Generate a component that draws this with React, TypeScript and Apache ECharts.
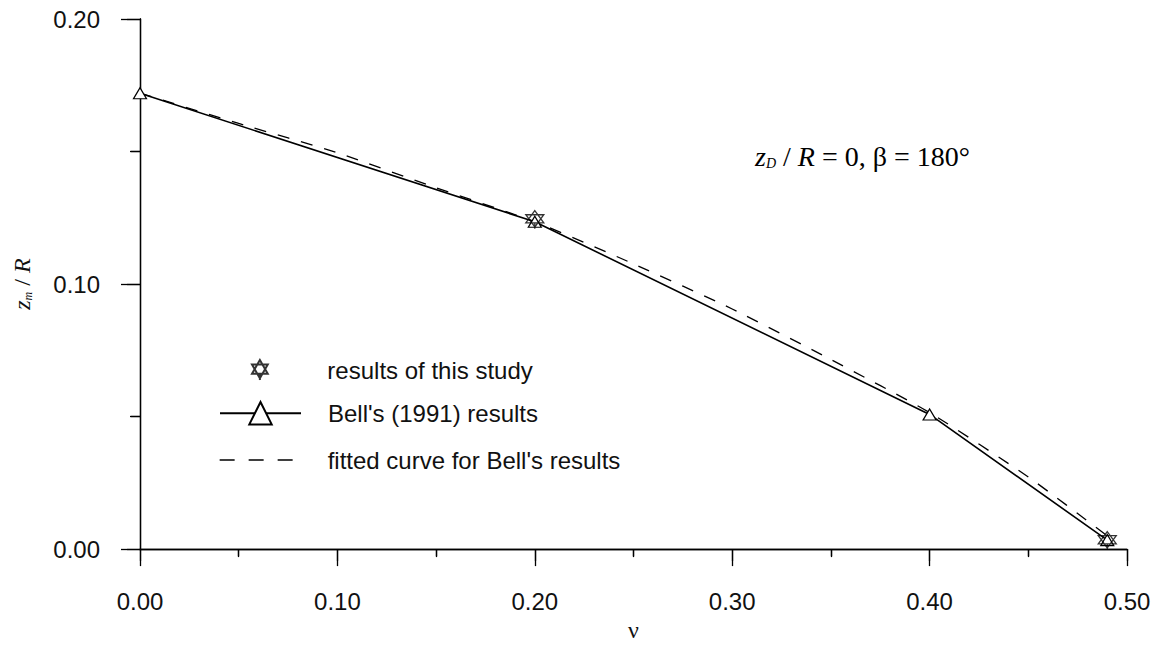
import React, { useEffect, useRef } from "react";
import * as echarts from "echarts";

// ν values and z_m / R values
const bellNu = [0, 0.2, 0.4, 0.49];
const bellZm = [0.172, 0.1235, 0.0508, 0.0034];
const studyNu = [0.2, 0.49];
const studyZm = [0.1243, 0.0032];
const fitNu = [0, 0.05, 0.1, 0.15, 0.2, 0.25, 0.3, 0.35, 0.4, 0.45, 0.49];
const fitZm = [0.172, 0.1606, 0.1495, 0.1363, 0.1235, 0.1076, 0.0906, 0.0715, 0.0515, 0.0272, 0.005];

const xTicks = [0, 0.1, 0.2, 0.3, 0.4, 0.5];
const yTicks = [0, 0.1, 0.2];

const seriesNames = ["results of this study", "Bell's (1991) results", "fitted curve for Bell's results"];

const STAR =
  "path://M0,-10 L8.66,5 L-8.66,5 Z M0,10 L8.66,-5 L-8.66,-5 Z M0,5 L0,12";

const SANS = "'Liberation Sans', Arial, sans-serif";
const SERIF = "'Liberation Serif', 'Times New Roman', serif";

const G = { left: 140, top: 19, right: 32, bottom: 97 };

export default function App() {
  const ref = useRef<HTMLDivElement>(null);
  useEffect(() => {
    if (!ref.current) return;
    const chart = echarts.init(ref.current, undefined, { renderer: "svg" });
    const axisColor = "#000";
    const lineStyle = { color: axisColor, width: 1.3 };
    const tickFmt = (v: number) => (Math.abs(v) < 1e-9 ? "0.00" : v.toFixed(2));
    const xMin = xTicks[0], xMax = xTicks[xTicks.length - 1];
    const yMin = yTicks[0], yMax = yTicks[yTicks.length - 1];
    const richAxis = {
      i: { fontFamily: SERIF, fontStyle: "italic", fontSize: 24, lineHeight: 30, verticalAlign: "bottom", color: "#111" },
      sub: { fontFamily: SERIF, fontStyle: "italic", fontSize: 12, lineHeight: 12, verticalAlign: "bottom", color: "#111" },
      n: { fontFamily: SERIF, fontSize: 24, lineHeight: 30, verticalAlign: "bottom", color: "#111" },
    };
    const richNote = {
      i: { fontFamily: SERIF, fontStyle: "italic", fontSize: 28, lineHeight: 33, verticalAlign: "bottom", color: "#111" },
      sub: { fontFamily: SERIF, fontStyle: "italic", fontSize: 14, lineHeight: 14, verticalAlign: "bottom", color: "#111" },
      n: { fontFamily: SERIF, fontSize: 28, lineHeight: 33, verticalAlign: "bottom", color: "#111" },
    };
    const legendBase = {
      orient: "vertical",
      left: 219,
      padding: 0,
      itemWidth: 81,
      selectedMode: false,
      textStyle: { fontFamily: SANS, fontSize: 24, color: "#111", padding: [0, 0, 0, 22] },
    };
    chart.setOption({
      animation: false,
      backgroundColor: "#fff",
      grid: { ...G, containLabel: false },
      xAxis: [
        {
          type: "value",
          position: "bottom",
          min: xMin,
          max: xMax,
          interval: 0.1,
          name: "ν",
          nameLocation: "middle",
          nameGap: 66,
          nameTextStyle: { fontFamily: SERIF, fontSize: 24, color: "#111" },
          axisLine: { lineStyle },
          axisTick: { length: 17, lineStyle },
          minorTick: { show: true, splitNumber: 2, length: 8, lineStyle },
          axisLabel: { margin: 40, fontFamily: SANS, fontSize: 24, color: "#111", formatter: tickFmt },
          splitLine: { show: false },
        },
        {
          type: "value",
          position: "top",
          min: xMin,
          max: xMax,
          interval: 0.1,
          axisLine: { lineStyle },
          axisTick: { inside: true, length: 12, lineStyle },
          minorTick: { show: true, splitNumber: 2, length: 7, lineStyle },
          axisLabel: { show: false },
          splitLine: { show: false },
        },
      ],
      yAxis: [
        {
          type: "value",
          position: "left",
          min: yMin,
          max: yMax,
          interval: 0.1,
          name: "{i|z}{sub|m}{n| / }{i|R}",
          nameLocation: "middle",
          nameRotate: 90,
          nameGap: 106,
          nameTextStyle: { rich: richAxis },
          axisLine: { lineStyle },
          axisTick: { length: 19, lineStyle },
          minorTick: { show: true, splitNumber: 2, length: 10, lineStyle },
          axisLabel: { margin: 40, fontFamily: SANS, fontSize: 24, color: "#111", formatter: tickFmt },
          splitLine: { show: false },
        },
        {
          type: "value",
          position: "right",
          min: yMin,
          max: yMax,
          interval: 0.1,
          axisLine: { lineStyle },
          axisTick: { inside: true, length: 13, lineStyle },
          minorTick: { show: true, splitNumber: 2, length: 9, lineStyle },
          axisLabel: { show: false },
          splitLine: { show: false },
        },
      ],
      legend: [
        {
          ...legendBase,
          left: 251,
          top: 358,
          itemHeight: 20,
          data: [seriesNames[0]],
        },
        {
          ...legendBase,
          top: 401,
          itemHeight: 28,
          data: [seriesNames[1]],
        },
        {
          ...legendBase,
          top: 448,
          itemHeight: 14,
          itemStyle: { color: "rgba(0,0,0,0)", borderColor: "rgba(0,0,0,0)", borderWidth: 0 },
          lineStyle: { type: [15, 14], width: 1.3, color: "#000" },
          data: [seriesNames[2]],
        },
      ],
      graphic: [
        {
          type: "text",
          left: 755,
          top: 142,
          style: {
            text: "{i|z}{sub|D}{n| / }{i|R}{n| = 0, β = 180°}",
            rich: richNote,
          },
        },
      ],
      series: [
        {
          name: seriesNames[1],
          type: "line",
          data: bellNu.map((x, i) => [x, bellZm[i]]),
          symbol: "triangle",
          symbolSize: [13, 11],
          showSymbol: true,
          itemStyle: { color: "#fff", borderColor: "#000", borderWidth: 1.2 },
          lineStyle: { color: "#000", width: 1.6 },
          z: 3,
        },
        {
          name: seriesNames[2],
          type: "line",
          data: fitNu.map((x, i) => [x, fitZm[i]]),
          symbol: "none",
          smooth: 0.2,
          lineStyle: { color: "#000", width: 1.3, type: [12, 12] },
          itemStyle: { color: "#000" },
          z: 2,
        },
        {
          name: seriesNames[0],
          type: "scatter",
          data: studyNu.map((x, i) => [x, studyZm[i]]),
          symbol: STAR,
          symbolSize: 18,
          itemStyle: { color: "rgba(0,0,0,0)", borderColor: "#000", borderWidth: 1.3 },
          z: 5,
        },
      ],
    });
    return () => chart.dispose();
  }, []);
  return (
    <div
      ref={ref}
      style={{ position: "fixed", left: 0, top: 0, width: 1159, height: 647, background: "#fff" }}
    />
  );
}
